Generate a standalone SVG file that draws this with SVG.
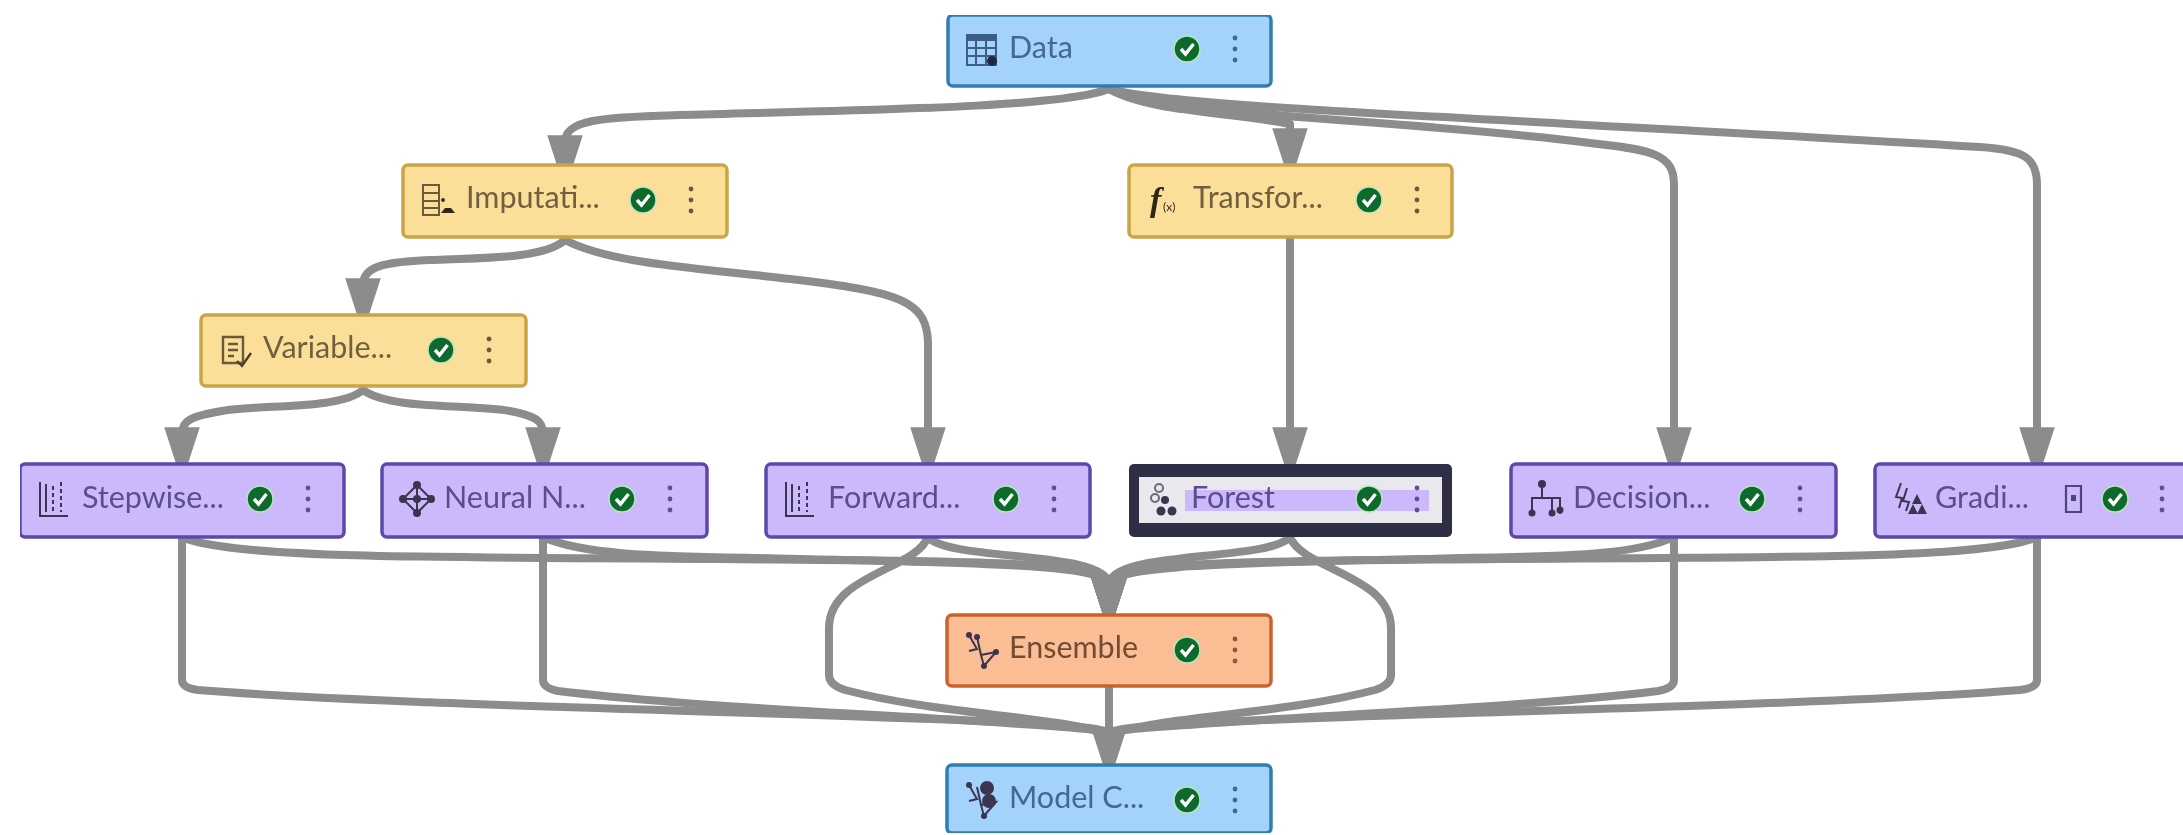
<svg xmlns="http://www.w3.org/2000/svg" width="2183" height="835" viewBox="0 0 2183 835">
<style>
.n{stroke-width:3.5}
.blue{fill:#a3d2fb;stroke:#2f7fb0}
.yel{fill:#fbdf99;stroke:#c9a546}
.pur{fill:#cbb9fb;stroke:#5d47ab}
.ora{fill:#fbbd94;stroke:#c9632a}
text{font-family:Lato,"Noto Sans","Liberation Sans",sans-serif;font-size:30.5px}
.tb{fill:#44688f}.ty{fill:#6f5f3f}.tp{fill:#5a4f8c}.to{fill:#6f4c36}
.e{fill:none;stroke:#8c8c8c;stroke-width:8;stroke-linecap:round;stroke-linejoin:round}
.a{marker-end:url(#arr)}
.ic{fill:none;stroke:#3a3550;stroke-width:2}
.id{fill:#3a3550}
</style>
<defs>
<filter id="soft" x="0" y="0" width="100%" height="100%"><feGaussianBlur stdDeviation="0.7"/></filter>
<marker id="arr" markerUnits="userSpaceOnUse" markerWidth="40" markerHeight="36" viewBox="0 0 36 32" refX="6" refY="16" orient="auto" overflow="visible"><polygon points="0,0 34,11 36,16 34,21 0,32" fill="#8c8c8c"/></marker>
<g id="ck"><circle r="13" fill="#0c6b2b" stroke="#b8e6c0" stroke-width="1.5"/><path d="M-6 0L-1.5 5L6.5-5" fill="none" stroke="#fff" stroke-width="3.4"/></g>
<g id="dt"><circle cy="-11" r="2.4"/><circle r="2.4"/><circle cy="11" r="2.4"/></g>
<g id="bars"><path class="ic" d="M20 18V52H48M26 20V48"/><path class="ic" stroke-dasharray="4 3" d="M33 22V48M41 18V48"/></g>
</defs>
<rect width="2183" height="835" fill="#fff"/>
<g filter="url(#soft)">
<g id="connectors">
<path class="e a" d="M1109 89C1060 108 860 110 680 115C600 117 565 120 565 142"/>
<path class="e a" d="M1109 89C1150 112 1230 112 1290 124V135"/>
<path class="e a" d="M1109 89C1160 116 1420 120 1590 143C1655 150 1674 155 1674 185V434"/>
<path class="e a" d="M1109 89C1180 108 1500 118 1980 147C2025 150 2037 158 2037 185V434"/>
<path class="e a" d="M1290 237V434"/>
<path class="e a" d="M565 240C545 258 490 258 430 260C385 262 363 266 363 285"/>
<path class="e a" d="M565 240C610 264 700 268 790 279C900 292 928 300 928 345V434"/>
<path class="e a" d="M363 390C340 410 260 404 222 411C192 416 182 420 182 434"/>
<path class="e a" d="M363 390C390 410 470 404 510 411C535 416 543 420 543 434"/>
<path class="e a" d="M182 537C230 558 400 557 720 559C950 561 1109 560 1109 585"/>
<path class="e a" d="M543 537C590 558 680 556 800 559C1000 563 1109 566 1109 585"/>
<path class="e a" d="M928 537C950 562 1109 550 1109 585"/>
<path class="e a" d="M1290 537C1268 562 1109 550 1109 585"/>
<path class="e a" d="M1674 537C1630 558 1540 556 1420 559C1220 563 1109 566 1109 585"/>
<path class="e a" d="M2037 537C1990 558 1820 557 1500 559C1270 561 1109 560 1109 585"/>
<path class="e" d="M182 537V680Q182 688 198 690C400 706 800 712 1000 722C1080 726 1109 728 1109 735"/>
<path class="e" d="M543 537V680Q543 688 558 691C700 708 900 715 1020 724C1080 728 1109 730 1109 735"/>
<path class="e" d="M928 537C915 570 829 575 829 628V675Q829 685 845 690C940 715 1060 716 1109 735"/>
<path class="e" d="M1290 537C1303 570 1391 575 1391 628V675Q1391 685 1375 690C1280 715 1160 716 1109 735"/>
<path class="e a" d="M1109 687V735"/>
<path class="e" d="M1674 537V680Q1674 688 1658 691C1520 708 1320 715 1200 724C1140 728 1109 730 1109 735"/>
<path class="e" d="M2037 537V680Q2037 688 2020 690C1820 706 1420 712 1220 722C1140 726 1109 728 1109 735"/>
</g>
<g id="data" transform="translate(948 15)"><rect class="n blue" width="323" height="71" rx="5"/><g fill="#3d5f85"><rect x="19" y="20" width="29" height="30" fill="none" stroke="#3d5f85" stroke-width="2"/><path d="M19 20H48V26H19Z"/><path d="M19 33H48M19 41H48M28 20V50M38 20V50" stroke="#3d5f85" stroke-width="2"/><circle cx="44" cy="46" r="5" fill="#1c2b46"/></g><text class="tb" x="61" y="43">Data</text><use href="#ck" x="239" y="34"/><use href="#dt" x="287" y="34" fill="#3f6894"/></g>
<g id="imputation" transform="translate(403 165)"><rect class="n yel" width="324" height="72" rx="5"/><path d="M20 20H36V50H20ZM20 28H36M20 36H36M20 43H36" fill="none" stroke="#6b5a3a" stroke-width="2"/><circle cx="40" cy="35" r="2" fill="#3b3220"/><path d="M38 48L42 43H48L52 48Z" fill="#2f2818"/><text class="ty" x="63" y="43">Imputati...</text><use href="#ck" x="240" y="35"/><use href="#dt" x="288" y="35" fill="#6b5a3a"/></g>
<g id="transform" transform="translate(1129 165)"><rect class="n yel" width="323" height="72" rx="5"/><text x="21" y="46" fill="#2f2818" style="font-family:'Liberation Serif',serif;font-style:italic;font-weight:bold;font-size:34px">f</text><text x="34" y="46" fill="#2f2818" style="font-size:12px">(x)</text><text class="ty" x="64" y="43">Transfor...</text><use href="#ck" x="240" y="35"/><use href="#dt" x="288" y="35" fill="#6b5a3a"/></g>
<g id="variable" transform="translate(201 315)"><rect class="n yel" width="325" height="71" rx="5"/><path d="M22 22H42V48H22ZM27 29H37M27 35H37M27 41H33" fill="none" stroke="#6b5a3a" stroke-width="2.4"/><path d="M36 46L41 51L50 38" fill="none" stroke="#4b4029" stroke-width="2.4"/><text class="ty" x="62" y="43">Variable...</text><use href="#ck" x="240" y="35"/><use href="#dt" x="288" y="35" fill="#6b5a3a"/></g>
<g id="stepwise" transform="translate(20 464)"><rect class="n pur" width="324" height="73" rx="5"/><use href="#bars"/><text class="tp" x="62" y="44">Stepwise...</text><use href="#ck" x="240" y="35"/><use href="#dt" x="288" y="35" fill="#5f4f97"/></g>
<g id="neural" transform="translate(382 464)"><rect class="n pur" width="325" height="73" rx="5"/><path class="ic" d="M35 21L49 35L35 49L21 35ZM21 35H49M35 21V49"/><g class="id"><circle cx="35" cy="21" r="4"/><circle cx="35" cy="49" r="4"/><circle cx="21" cy="35" r="4"/><circle cx="49" cy="35" r="4"/><circle cx="35" cy="35" r="4"/></g><text class="tp" x="62" y="44">Neural N...</text><use href="#ck" x="240" y="35"/><use href="#dt" x="288" y="35" fill="#5f4f97"/></g>
<g id="forward" transform="translate(766 464)"><rect class="n pur" width="324" height="73" rx="5"/><use href="#bars"/><text class="tp" x="62" y="44">Forward...</text><use href="#ck" x="240" y="35"/><use href="#dt" x="288" y="35" fill="#5f4f97"/></g>
<g id="forest" transform="translate(1129 464)"><rect width="323" height="73" rx="5" fill="#2f2d45"/><rect x="10" y="13" width="303" height="46" fill="#e9e8ec"/><rect x="56" y="26" width="244" height="21" fill="#cbb9fb"/><g fill="none" stroke="#6a6880" stroke-width="2"><circle cx="30" cy="24" r="4"/><circle cx="26" cy="34" r="4"/></g><g class="id"><circle cx="36" cy="36" r="4"/><circle cx="32" cy="47" r="4.5"/><circle cx="43" cy="47" r="4.5"/></g><text class="tp" x="62" y="44">Forest</text><use href="#ck" x="240" y="35"/><use href="#dt" x="288" y="35" fill="#5f4f97"/></g>
<g id="decision" transform="translate(1511 464)"><rect class="n pur" width="325" height="73" rx="5"/><path class="ic" d="M31 20V34M21 50V34H41V50M41 34H49V50"/><g class="id"><circle cx="31" cy="20" r="4"/><circle cx="21" cy="49" r="3.5"/><circle cx="41" cy="49" r="3.5"/><circle cx="49" cy="46" r="3.5"/></g><text class="tp" x="62" y="44">Decision...</text><use href="#ck" x="241" y="35"/><use href="#dt" x="289" y="35" fill="#5f4f97"/></g>
<g id="gradient" transform="translate(1875 464)"><rect class="n pur" width="340" height="73" rx="5"/><path class="ic" d="M26 19L21 33L27 34L24 44M32 24L28 37L34 38L31 47"/><path class="id" d="M42 30L47 40H37ZM38 40L43 50H33ZM47 40L52 50H42Z"/><text class="tp" x="60" y="44">Gradi...</text><path d="M191 22H206V48H191Z" fill="none" stroke="#4b4478" stroke-width="2.2"/><rect x="196" y="31" width="5" height="6" fill="#4b4478"/><use href="#ck" x="240" y="35"/><use href="#dt" x="287" y="35" fill="#5f4f97"/></g>
<g id="ensemble" transform="translate(947 615)"><rect class="n ora" width="324" height="71" rx="5"/><path class="ic" d="M22 20L30 34L22 36M30 22L34 40L49 37L37 51L34 40"/><g class="id"><circle cx="22" cy="20" r="3"/><circle cx="30" cy="22" r="3"/><circle cx="49" cy="37" r="3"/><circle cx="37" cy="51" r="3"/></g><text class="to" x="62" y="43">Ensemble</text><use href="#ck" x="240" y="35"/><use href="#dt" x="288" y="35" fill="#8a5a3a"/></g>
<g id="model" transform="translate(947 765)"><rect class="n blue" width="324" height="68" rx="5"/><path class="ic" d="M22 20L30 34L22 36M30 22L34 40L49 37L37 51L34 40"/><g class="id"><circle cx="22" cy="20" r="3"/><circle cx="37" cy="51" r="3"/><circle cx="40" cy="23" r="7"/><circle cx="42" cy="36" r="7"/></g><text class="tb" x="62" y="43">Model C...</text><use href="#ck" x="240" y="35"/><use href="#dt" x="288" y="35" fill="#3f6894"/></g>
</g>
</svg>
